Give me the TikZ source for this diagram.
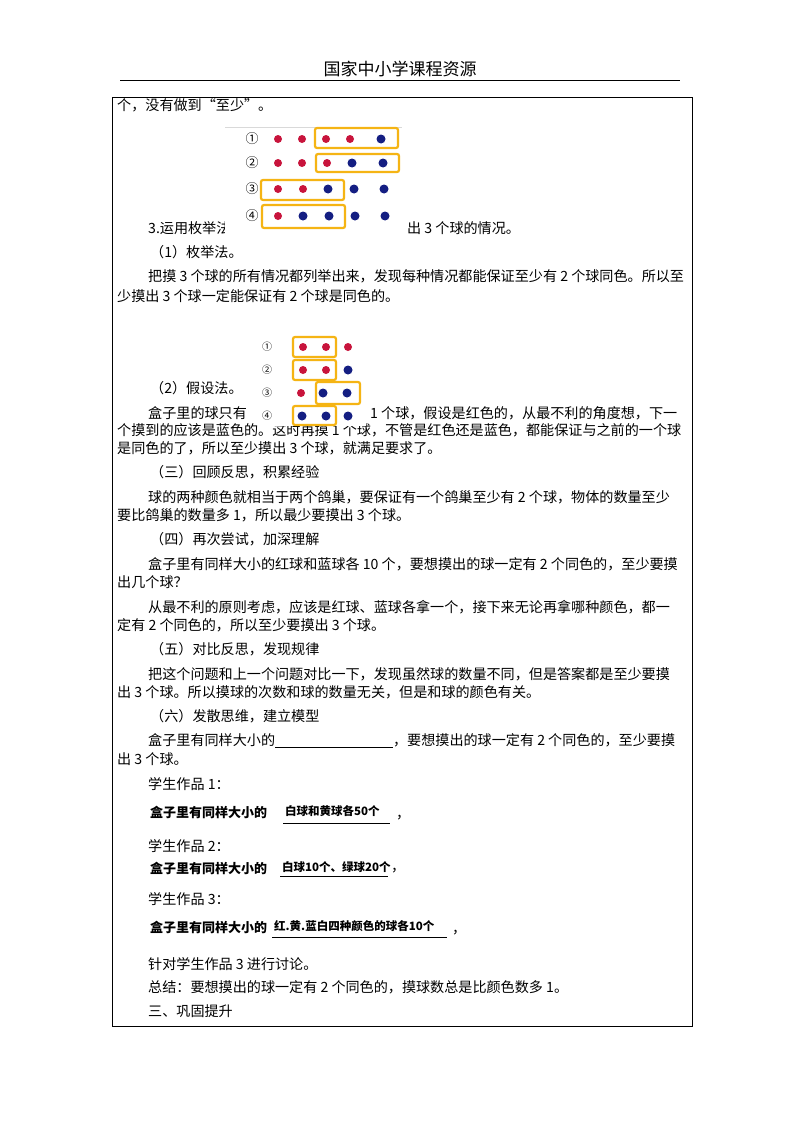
\documentclass[tikz,border=0pt]{standalone}
\usepackage{fontspec}
\setmainfont{Noto Sans CJK SC}
\usepackage{xcolor}
\usetikzlibrary{positioning}
\definecolor{ballred}{RGB}{200,20,60}
\definecolor{ballblue}{RGB}{20,30,130}
\definecolor{boxyellow}{RGB}{245,180,20}

\begin{document}
\begin{tikzpicture}[
			x=1pt, y=-1pt,
			txt/.style={anchor=west, inner sep=0pt, font=\fontsize{14.1}{15}\selectfont},
			hand/.style={anchor=west, inner sep=0pt, font=\fontsize{13}{14}\selectfont\bfseries},
			handu/.style={hand, font=\fontsize{11.5}{13}\selectfont\bfseries},
			red/.style={circle, fill=ballred, inner sep=0pt, minimum size=8pt},
			blue/.style={circle, fill=ballblue, inner sep=0pt, minimum size=9pt},
			frame/.style={draw=boxyellow, line width=2.2pt, rounded corners=2pt},
			num/.style={inner sep=0pt, font=\fontsize{13}{13}\selectfont}
			]
			\useasboundingbox (0,0) rectangle (800,1132);
			
			% 页眉
			\node (head) [inner sep=0pt, font=\fontsize{17}{17}\selectfont] at (400,69) {国家中小学课程资源};
			\coordinate (hl) at (120,80);
			\coordinate (hr) at (680,80);
			\draw [line width=1pt] (hl) -- (hr);
			\draw [line width=0.8pt] (112,97) rectangle (692,1026);
			
			% 正文
			\node (t1) [txt] at (117,105) {个，没有做到“至少”。};
			\node (t2a) [txt] at (148,228) {3.运用枚举法和假设法说明至少摸};
			\node (t2b) [txt] at (407,228) {出 3 个球的情况。};
			
			% 图一
			\fill [white] (225,127) rectangle (402,235);
			\draw [gray!30] (225,127) -- (402,127);
			\foreach \r/\y in {1/139,2/163,3/189,4/216}
				\node (n\r) [num] at (252,\y) {\ifcase\r\or ①\or ②\or ③\or ④\fi};
			\foreach \x/\s [count=\i] in {278/red,302/red,326/red,350/red,381/blue}
				\node (a\i) [\s] at (\x,139) {};
			\foreach \x/\s [count=\i] in {278/red,302/red,327/red,352/blue,383/blue}
				\node (b\i) [\s] at (\x,163) {};
			\foreach \x/\s [count=\i] in {278/red,303/red,328/blue,354/blue,384/blue}
				\node (c\i) [\s] at (\x,189) {};
			\foreach \x/\s [count=\i] in {278/red,303/blue,329/blue,355/blue,385/blue}
				\node (d\i) [\s] at (\x,216) {};
			\draw [frame] (315,128) rectangle (398,148);
			\draw [frame] (316,154) rectangle (399,172);
			\draw [frame] (261,180) rectangle (344,200);
			\draw [frame] (262,205) rectangle (345,228);
			
			\node (t3) [txt] at (150,252) {（1）枚举法。};
			\node (t4) [txt] at (148,276) {把摸 3 个球的所有情况都列举出来，发现每种情况都能保证至少有 2 个球同色。所以至};
			\node (t5) [txt] at (117,296) {少摸出 3 个球一定能保证有 2 个球是同色的。};
			\node (t6) [txt] at (150,388) {（2）假设法。};
			\node (t7a) [txt] at (148,413) {盒子里的球只有};
			\node (t7b) [txt] at (370,413) {1 个球，假设是红色的，从最不利的角度想，下一};
			\node (t8) [txt] at (117,430) {个摸到的应该是蓝色的。这时再摸 1 个球，不管是红色还是蓝色，都能保证与之前的一个球};
			\node (t9) [txt] at (117,448) {是同色的了，所以至少摸出 3 个球，就满足要求了。};
			
			% 图二
			\fill [white] (258,334) rectangle (366,426);
			\foreach \r/\y in {1/347,2/370,3/393,4/416}
				\node (m\r) [num, font=\fontsize{10}{10}\selectfont] at (267,\y) {\ifcase\r\or ①\or ②\or ③\or ④\fi};
			\foreach \x/\s [count=\i] in {303/red,326/red,348/red}
				\node (e\i) [\s] at (\x,347) {};
			\foreach \x/\s [count=\i] in {303/red,326/red,348/blue}
				\node (f\i) [\s] at (\x,370) {};
			\foreach \x/\s [count=\i] in {301/red,323/blue,347/blue}
				\node (g\i) [\s] at (\x,393) {};
			\foreach \x/\s [count=\i] in {302/blue,326/blue,348/blue}
				\node (h\i) [\s] at (\x,416) {};
			\draw [frame] (293,337) rectangle (336,357);
			\draw [frame] (293,360) rectangle (336,380);
			\draw [frame] (316,382) rectangle (360,404);
			\draw [frame] (293,406) rectangle (336,425);
			
			\node (t10) [txt] at (150,472) {（三）回顾反思，积累经验};
			\node (t11) [txt] at (148,497) {球的两种颜色就相当于两个鸽巢，要保证有一个鸽巢至少有 2 个球，物体的数量至少};
			\node (t12) [txt] at (117,515) {要比鸽巢的数量多 1，所以最少要摸出 3 个球。};
			\node (t13) [txt] at (150,539) {（四）再次尝试，加深理解};
			\node (t14) [txt] at (148,564) {盒子里有同样大小的红球和蓝球各 10 个，要想摸出的球一定有 2 个同色的，至少要摸};
			\node (t15) [txt] at (117,582) {出几个球？};
			\node (t16) [txt] at (148,607) {从最不利的原则考虑，应该是红球、蓝球各拿一个，接下来无论再拿哪种颜色，都一};
			\node (t17) [txt] at (117,625) {定有 2 个同色的，所以至少要摸出 3 个球。};
			\node (t18) [txt] at (150,649) {（五）对比反思，发现规律};
			\node (t19) [txt] at (148,674) {把这个问题和上一个问题对比一下，发现虽然球的数量不同，但是答案都是至少要摸};
			\node (t20) [txt] at (117,692) {出 3 个球。所以摸球的次数和球的数量无关，但是和球的颜色有关。};
			\node (t21) [txt] at (150,716) {（六）发散思维，建立模型};
			\node (t22) [txt] at (148,741) {盒子里有同样大小的\underline{\hspace{118pt}}，要想摸出的球一定有 2 个同色的，至少要摸};
			\node (t23) [txt] at (117,759) {出 3 个球。};
			
			% 学生作品
			\node (s1) [txt] at (148,784) {学生作品 1：};
			\node (w1) [hand] at (150,812) {盒子里有同样大小的};
			\node (w1u) [handu] at (285,811) {白球和黄球各50个};
			\draw [line width=1pt] (283,823) -- (390,823);
			\node (c1) [txt] at (396,818) {，};
			\node (s2) [txt] at (148,846) {学生作品 2：};
			\node (w2) [hand] at (150,868) {盒子里有同样大小的};
			\node (w2u) [handu] at (282,867) {白球10个、绿球20个};
			\draw [line width=1pt] (280,876) -- (388,876);
			\node (c2) [txt] at (391,871) {，};
			\node (s3) [txt] at (148,899) {学生作品 3：};
			\node (w3) [hand] at (150,927) {盒子里有同样大小的};
			\node (w3u) [handu] at (274,926) {红.黄.蓝白四种颜色的球各10个};
			\draw [line width=1pt] (272,937) -- (447,937);
			\node (c3) [txt] at (452,933) {，};
			
			\node (t24) [txt] at (148,964) {针对学生作品 3 进行讨论。};
			\node (t25) [txt] at (148,987) {总结：要想摸出的球一定有 2 个同色的，摸球数总是比颜色数多 1。};
			\node (t26) [txt] at (148,1011) {三、巩固提升};
			
		\end{tikzpicture}
\end{document}
